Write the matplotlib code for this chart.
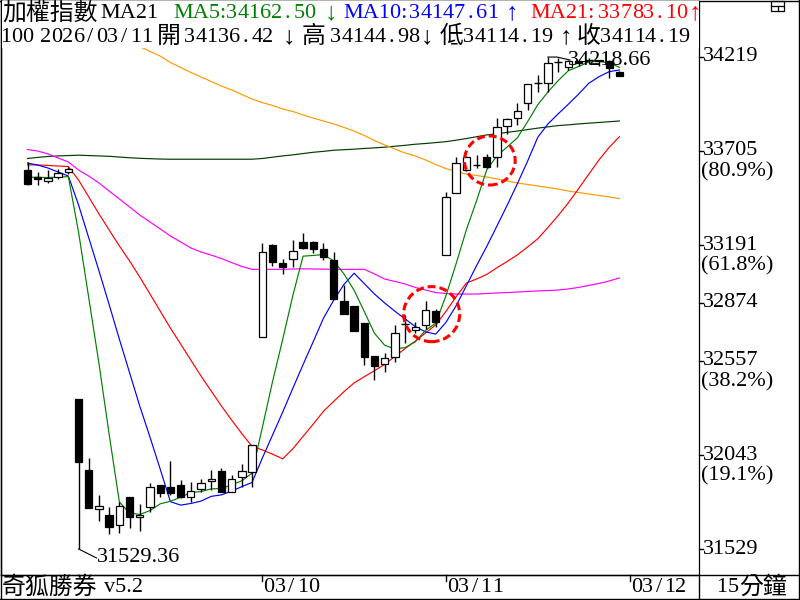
import numpy as np
import matplotlib.pyplot as plt
from matplotlib.patches import Rectangle, Ellipse
from matplotlib.lines import Line2D
from matplotlib.transforms import blended_transform_factory

plt.rcParams['font.family'] = ['Liberation Serif', 'Noto Sans CJK TC']

# 15 minute bars: last 5 bars of 03/06, then 03/09, 03/10, 03/11 (18 bars each)
opens = [33601, 33565, 33543, 33565, 33592,
         32349, 31961, 31748, 31715, 31659, 31812, 31702, 31757, 31877, 31866, 31877, 31812, 31855, 31901, 31955, 31842, 31924, 31952,
         32690, 33191, 33091, 33115, 33206, 33209, 33167, 33109, 32887, 32858, 32763, 32584, 32539, 32577, 32758, 32726, 32754, 32830,
         33136, 33474, 33601, 33629, 33671, 33671, 33842, 33884, 33966, 34078, 34075, 34193, 34165, 34195, 34200, 34195, 34199, 34136.42]
highs = [33645, 33592, 33601, 33605, 33620,
         32349, 32027, 31824, 31760, 31788, 31815, 31775, 31888, 31880, 32010, 31906, 31894, 31912, 31961, 31973, 31934, 31994, 32100,
         33200, 33197, 33113, 33218, 33255, 33215, 33200, 33154, 32972, 32860, 32765, 32584, 32602, 32754, 32808, 32770, 32885, 32841,
         33483, 33674, 33675, 33683, 33689, 33884, 33885, 33966, 34070, 34121, 34218.66, 34212, 34200, 34210, 34212, 34205, 34205, 34144.98]
lows = [33520, 33519, 33532, 33550, 33580,
        31529.36, 31753, 31684, 31609, 31615, 31642, 31629, 31733, 31815, 31824, 31806, 31788, 31843, 31852, 31842, 31840, 31870, 31870,
        32690, 33076, 33031, 33069, 33170, 33146, 33109, 32894, 32812, 32723, 32535, 32453, 32498, 32553, 32654, 32708, 32730, 32744,
        33136, 33474, 33595, 33610, 33610, 33619, 33798, 33847, 33929, 34029, 34029, 34139, 34150, 34170, 34180, 34170, 34103, 34114.19]
closes = [33525, 33550, 33556, 33587, 33605,
          32005, 31755, 31762, 31648, 31762, 31702, 31716, 31866, 31834, 31834, 31812, 31845, 31888, 31912, 31842, 31913, 31955, 32096,
          33151, 33097, 33069, 33160, 33173, 33169, 33124, 32894, 32812, 32723, 32580, 32530, 32572, 32708, 32758, 32744, 32836, 32772,
          33455, 33638, 33671, 33629, 33616, 33835, 33882, 33924, 34070, 34078, 34185, 34193, 34195, 34185, 34200, 34200, 34157, 34114.19]

# moving average lines
ma5 = [33562, 33561, 33560, 33562, 33565, 33261, 32902, 32543, 32155, 31786,
       31726, 31718, 31739, 31776, 31790, 31812, 31838, 31843, 31858, 31860,
       31880, 31902, 31944, 32191, 32442, 32674, 32915, 33130, 33134, 33139,
       33104, 33034, 32944, 32827, 32708, 32643, 32623, 32630, 32662, 32724,
       32764, 32913, 33089, 33274, 33433, 33602, 33678, 33727, 33777, 33865,
       33958, 34028, 34090, 34144, 34167, 34192, 34195, 34187, 34162.50]
ma10 = [33639, 33628, 33612, 33590, 33568, 33410, 33230, 33050, 32865, 32676,
        32493, 32310, 32141, 31966, 31788, 31769, 31778, 31791, 31817, 31825,
        31846, 31870, 31893, 32025, 32151, 32277, 32408, 32537, 32663, 32791,
        32889, 32975, 33037, 32980, 32923, 32874, 32829, 32787, 32745, 32716,
        32704, 32768, 32859, 32968, 33078, 33183, 33295, 33408, 33526, 33649,
        33780, 33853, 33908, 33961, 34016, 34075, 34111, 34139, 34147.61]
ma21 = [33629, 33629, 33626, 33623, 33620, 33546, 33454, 33361, 33273, 33186,
        33104, 33016, 32923, 32830, 32737, 32650, 32562, 32475, 32393, 32311,
        32234, 32160, 32090, 32071, 32048, 32022, 32077, 32145, 32212, 32282,
        32336, 32389, 32437, 32471, 32504, 32539, 32582, 32625, 32666, 32710,
        32754, 32828, 32908, 32983, 33005, 33030, 33067, 33101, 33137, 33180,
        33225, 33287, 33352, 33422, 33499, 33578, 33656, 33725, 33783.10]
ma_magenta = [33713, 33705, 33689, 33667, 33645, 33601, 33568, 33530, 33486, 33443,
              33399, 33355, 33317, 33279, 33240, 33208, 33175, 33153, 33136, 33117,
              33095, 33074, 33058, 33058, 33058, 33058, 33060, 33061, 33060, 33059,
              33058, 33058, 33058, 33058, 33033, 33005, 32992, 32978, 32959, 32945,
              32931, 32926, 32923, 32923, 32923, 32926, 32929, 32931, 32934, 32937,
              32940, 32942, 32945, 32951, 32959, 32970, 32981, 32994, 33011]
orange_start = 11   # earlier part is hidden under the header
ma_orange = [34276, 34249, 34224, 34189, 34162, 34134, 34110, 34085, 34060, 34039,
             34014, 33989, 33970, 33954, 33935, 33921, 33902, 33885, 33869, 33853,
             33834, 33814, 33790, 33762, 33738, 33716, 33694, 33678, 33656, 33631,
             33609, 33593, 33579, 33571, 33563, 33552, 33541, 33530, 33522, 33514,
             33505, 33497, 33486, 33478, 33470, 33462, 33454, 33445]
ma_darkgreen = [33664, 33670, 33675, 33678, 33680, 33682, 33680, 33678, 33676, 33672,
                33668, 33665, 33663, 33661, 33660, 33660, 33660, 33660, 33660, 33660,
                33660, 33660, 33660, 33664, 33671, 33678, 33684, 33691, 33698, 33703,
                33709, 33712, 33715, 33719, 33722, 33726, 33731, 33736, 33742, 33746,
                33751, 33756, 33764, 33773, 33783, 33793, 33799, 33807, 33814, 33822,
                33830, 33837, 33844, 33848, 33853, 33857, 33861, 33865, 33869]

price_ticks = [34219, 33705, 33191, 32874, 32557, 32043, 31529]
tick_pcts = ['', '(80.9%)', '(61.8%)', '', '(38.2%)', '(19.1%)', '']
date_labels = ['03/10', '03/11', '03/12']
date_index = [23, 41, 59]
volume_text = '100'
date_text = '2026/03/11'

GREEN, BLUE, RED = '#008000', '#0000ff', '#ff0000'
FS = 16
FS_CJK = 17.2
PITCH = 11.2   # the original font is a fixed-pitch one

n = len(closes)
x = np.arange(n)
W, H = 800, 600


def fx(px):
    return px / W


def fy(py):
    return 1 - py / H


fig = plt.figure(figsize=(8, 6), dpi=100)


def put(px, py, s, kind='txt', color='black', ha='left'):
    # kind: txt = plain text, num = one char per fixed cell, cjk, arrow
    if kind == 'num':
        for k, ch in enumerate(s):
            fig.text(fx(px + PITCH * (k + 0.5)), fy(py), ch, color=color,
                     fontsize=FS, ha='center', va='center', zorder=6)
    elif kind == 'cjk':
        fig.text(fx(px), fy(py), s, color=color, fontsize=FS_CJK,
                 ha=ha, va='center', zorder=6)
    elif kind == 'arrow':
        fig.text(fx(px), fy(py), s, color=color, fontsize=18,
                 ha='center', va='center', zorder=6)
    else:
        fig.text(fx(px), fy(py), s, color=color, fontsize=FS,
                 ha=ha, va='center', zorder=6)


ax = fig.add_axes([fx(1), fy(575), fx(699) - fx(1), fy(1) - fy(575)])
ax.set_xlim(-2.6, 65.8)
ax.set_ylim(31387, 34525)
ax.set_xticks([])
ax.set_yticks([])
for s in ax.spines.values():
    s.set_linewidth(0.9)
    s.set_color('black')

# MA lines (under the candles)
lw = 0.85
ax.plot(x, ma_darkgreen, color='#003c00', lw=lw, zorder=2)
ax.plot(x, ma_magenta, color='#ff00ff', lw=lw, zorder=2)
ax.plot(x[orange_start:], ma_orange, color='#ff9900', lw=lw, zorder=2)
ax.plot(x, ma21, color=RED, lw=lw, zorder=2)
ax.plot(x, ma10, color=BLUE, lw=lw, zorder=2)
ax.plot(x, ma5, color=GREEN, lw=lw, zorder=2)

# candles
for i in range(n):
    o, h, l, c = opens[i], highs[i], lows[i], closes[i]
    ax.vlines(i, l, h, color='black', lw=1, zorder=4)
    if c == o:
        ax.hlines(c, i - 0.38, i + 0.38, color='black', lw=1, zorder=5)
    else:
        ax.bar(i, abs(c - o), bottom=min(o, c), width=0.72,
               facecolor='white' if c > o else 'black',
               edgecolor='black', linewidth=0.9, zorder=5)

# highest / lowest markers
ih = int(np.argmax(highs))
il = int(np.argmin(lows))
ppx = 1 / 10.205   # index units per pixel
ypx = 5.467        # price per pixel
ax.plot([ih, ih + 9 * ppx, ih + 22 * ppx],
        [highs[ih], highs[ih], highs[ih] - 3 * ypx], color='black', lw=0.8, zorder=6)
ax.text(ih + 20 * ppx, highs[ih] - 3 * ypx, f'{highs[ih]:.2f}', fontsize=FS,
        va='center', ha='left', zorder=7)
ax.plot([il, il + 18 * ppx], [lows[il], lows[il] - 9 * ypx], color='black', lw=0.8, zorder=6)
ax.text(il + 18 * ppx, lows[il] - 9 * ypx, f'{lows[il]:.2f}', fontsize=FS,
        va='center', ha='left', zorder=7)

# dashed red circles
for cx, cy, w, h in [(45.3, 33653, 4.97, 268), (39.6, 32813, 5.5, 301)]:
    ax.add_patch(Ellipse((cx, cy), w, h, fill=False, edgecolor=RED, lw=2.2,
                         linestyle=(0, (2.6, 1.3)), zorder=8))

# right price scale
tr = blended_transform_factory(ax.transAxes, ax.transData)
for v, pct in zip(price_ticks, tick_pcts):
    ax.plot([1.0, 1.006], [v, v], color='black', lw=1, transform=tr, clip_on=False)
    ax.text(1.006, v, str(v), fontsize=FS, transform=tr, va='center', ha='left')
    if pct:
        ax.annotate(pct, xy=(1.003, v), xycoords=tr, xytext=(0, -15),
                    textcoords='offset points', fontsize=FS, va='center', ha='left')

# date labels under the chart
trx = blended_transform_factory(ax.transData, fig.transFigure)
for d, idx in zip(date_labels, date_index):
    ax.plot([idx, idx], [fy(575), fy(581)], color='black', lw=1,
            transform=trx, clip_on=False)
    px = ax.transData.transform((idx, 0))[0]
    put(px + 1, 587, d, 'num')

# header box over the top of the chart
fig.patches.append(Rectangle((fx(1.5), fy(48)), fx(697), fy(1.5) - fy(48),
                             transform=fig.transFigure, facecolor='white',
                             edgecolor='none', zorder=5))
arrow = lambda a, b: '↑' if a >= b else '↓'
line1 = [(2, '加權指數', 'cjk', 'black'), (100, 'MA21', 'txt', 'black'),
         (173, 'MA5:', 'txt', GREEN), (226, f'{ma5[-1]:.2f}', 'num', GREEN),
         (331, arrow(ma5[-1], ma5[-2]), 'arrow', GREEN),
         (343, 'MA10:', 'txt', BLUE), (409, f'{ma10[-1]:.2f}', 'num', BLUE),
         (512, arrow(ma10[-1], ma10[-2]), 'arrow', BLUE),
         (530, 'MA21:', 'txt', RED), (598, f'{ma21[-1]:.2f}', 'num', RED),
         (695, arrow(ma21[-1], ma21[-2]), 'arrow', RED)]
line2 = [(0, volume_text, 'num'), (40, date_text, 'num'),
         (157, '開', 'cjk'), (184, f'{opens[-1]:.2f}', 'num'), (289, '↓', 'arrow'),
         (302, '高', 'cjk'), (330, f'{highs[-1]:.2f}', 'num'), (426.5, '↓', 'arrow'),
         (440, '低', 'cjk'), (463, f'{lows[-1]:.2f}', 'num'), (566, '↑', 'arrow'),
         (577, '收', 'cjk'), (600, f'{closes[-1]:.2f}', 'num')]
for px, t, kind, col in line1:
    put(px, 13, t, kind, col)
for px, t, kind in line2:
    put(px, 37, t, kind)

# footer and frame
put(2, 587, '奇狐勝券', 'cjk')
put(104, 587, 'v5.2')
put(716, 587, '15', 'num')
put(739, 587, '分鐘', 'cjk')
for xs, ys in [((1, 798), (575, 575)), ((699, 699), (575, 598)),
               ((0.5, 0.5), (0, 599)), ((798.5, 798.5), (0, 599)),
               ((0, 799), (598.5, 598.5)), ((0, 799), (0.5, 0.5))]:
    fig.add_artist(Line2D([fx(xs[0]), fx(xs[1])], [fy(ys[0]), fy(ys[1])],
                          color='black', lw=1.0, transform=fig.transFigure))
# small window icon at top right
fig.add_artist(Rectangle((fx(771), fy(11)), fx(13), fy(1) - fy(11), fill=False,
                         edgecolor='black', lw=0.9, transform=fig.transFigure))
fig.add_artist(Line2D([fx(771), fx(784)], [fy(6), fy(6)], color='black', lw=0.9,
                      transform=fig.transFigure))
fig.add_artist(Line2D([fx(777.5), fx(777.5)], [fy(6), fy(11)], color='black', lw=0.9,
                      transform=fig.transFigure))

fig.savefig('out.png', dpi=100)
